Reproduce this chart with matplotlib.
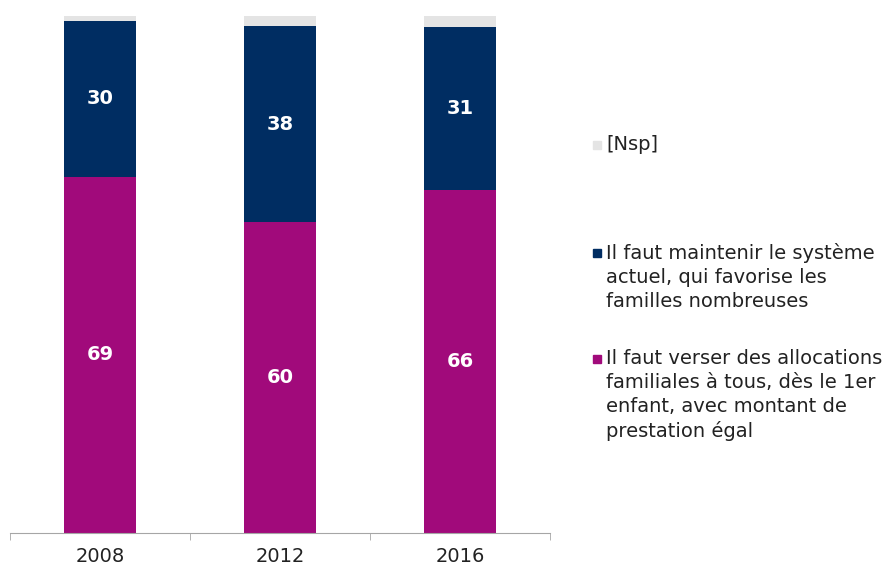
import matplotlib.pyplot as plt
import matplotlib.patches as mpatches
import numpy as np

plt.rcParams['font.family'] = ['DejaVu Sans']

years = ["2008", "2012", "2016"]
tous = [68.9, 60.1, 66.4]
maintenir = [30.2, 37.9, 31.4]
nsp = [0.9, 2.0, 2.2]

labels = [
    "[Nsp]",
    "Il faut maintenir le système\nactuel, qui favorise les\nfamilles nombreuses",
    "Il faut verser des allocations\nfamiliales à tous, dès le 1er\nenfant, avec montant de\nprestation égal",
]
colors = ["#E4E4E4", "#002D62", "#A10A7B"]

W, H = 883, 570
fig = plt.figure(figsize=(W / 100, H / 100), dpi=100)
ax = fig.add_axes([10 / W, 37 / H, 540 / W, 517 / H])

x = np.arange(len(years))
w = 0.4
ax.bar(x, tous, w, color=colors[2])
ax.bar(x, maintenir, w, bottom=tous, color=colors[1])
bottom3 = np.array(tous) + np.array(maintenir)
ax.bar(x, nsp, w, bottom=bottom3, color=colors[0])

for i in range(len(years)):
    ax.text(x[i], tous[i] / 2, f"{tous[i]:.0f}", ha="center", va="center",
            color="white", fontsize=14, fontweight="bold")
    ax.text(x[i], tous[i] + maintenir[i] / 2, f"{maintenir[i]:.0f}", ha="center",
            va="center", color="white", fontsize=14, fontweight="bold")

ax.set_xlim(-0.5, 2.5)
ax.set_ylim(0, 100)
for s in ["top", "right", "left"]:
    ax.spines[s].set_visible(False)
ax.spines["bottom"].set_color("#A6A6A6")
ax.set_yticks([])
ax.set_xticks(x)
ax.set_xticklabels(years, fontsize=14, color="#222222")
ax.tick_params(axis="x", which="major", length=0, pad=10)
ax.set_xticks([-0.5, 0.5, 1.5, 2.5], minor=True)
ax.tick_params(axis="x", which="minor", length=5, color="#A6A6A6")

# legend drawn by hand to keep markers on first line
leg_y = [145, 253, 359]
for lab, col, yy in zip(labels, colors, leg_y):
    fig.patches.append(mpatches.Rectangle((593 / W, 1 - (yy + 4) / H), 8 / W, 8 / H,
                                          transform=fig.transFigure, color=col))
    fig.text(606 / W, 1 - (yy - 10) / H, lab, fontsize=14, va="top", ha="left",
             color="#222222", linespacing=1.32)

fig.savefig("out.png", dpi=100)
